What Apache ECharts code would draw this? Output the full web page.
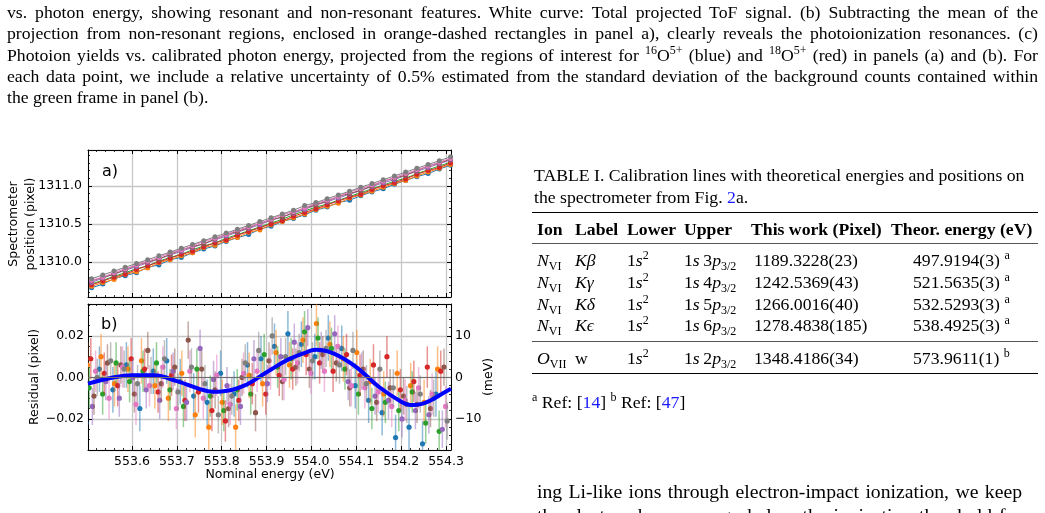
<!DOCTYPE html>
<html>
<head>
<meta charset="utf-8">
<script src="https://cdn.jsdelivr.net/npm/echarts@6.0.0/dist/echarts.min.js"></script>
<style>
  body { margin: 0; background: #fff; }
  #page { position: relative; width: 1045px; height: 513px; overflow: hidden; background: #fff; color: #000;
    font-family: 'Liberation Serif', 'Times New Roman', serif; }
  #chart { position: absolute; left: 0; top: 0; width: 1045px; height: 513px; }
  .blk { position: absolute; }
  .j { text-align: justify; text-align-last: justify; white-space: nowrap; }
  .l { white-space: nowrap; }
  .ref { color: #1a1aff; }
  sup { font-size: 0.68em; vertical-align: 0.55em; line-height: 0; }
  sub { font-size: 0.68em; vertical-align: -0.3em; line-height: 0; }
  .cell { position: absolute; white-space: nowrap; font-size: 17.7px; line-height: 20px; }
  .hd { font-weight: bold; }
  .rule { position: absolute; left: 532px; width: 506px; }
</style>
</head>
<body>
<div id="page">
  <div id="chart"></div>

  <!-- figure caption (end of it) -->
  <div class="blk" style="left:7px;top:2px;width:1031px;font-size:17.7px;line-height:21.3px">
    <div class="j">vs. photon energy, showing resonant and non-resonant features. White curve: Total projected ToF signal. (b) Subtracting the mean of the</div>
    <div class="j">projection from non-resonant regions, enclosed in orange-dashed rectangles in panel a), clearly reveals the photoionization resonances. (c)</div>
    <div class="j">Photoion yields vs. calibrated photon energy, projected from the regions of interest for <sup>16</sup>O<sup>5+</sup> (blue) and <sup>18</sup>O<sup>5+</sup> (red) in panels (a) and (b). For</div>
    <div class="j">each data point, we include a relative uncertainty of 0.5% estimated from the standard deviation of the background counts contained within</div>
    <div class="l">the green frame in panel (b).</div>
  </div>

  <!-- table caption -->
  <div class="blk" style="left:534px;top:165px;width:489px;font-size:17.7px;line-height:21.8px">
    <div class="j">TABLE I. Calibration lines with theoretical energies and positions on</div>
    <div class="l">the spectrometer from Fig. <span class="ref">2</span>a.</div>
  </div>

  <!-- table rules -->
  <div class="rule" style="top:212px;height:1.4px;background:#000"></div>
  <div class="rule" style="top:243px;height:1.2px;background:#555"></div>
  <div class="rule" style="top:341px;height:1.2px;background:#555"></div>
  <div class="rule" style="top:373px;height:1.4px;background:#000"></div>

  <!-- table header -->
  <div class="cell hd" style="left:537px;top:219px">Ion</div>
  <div class="cell hd" style="left:575px;top:219px">Label</div>
  <div class="cell hd" style="left:627px;top:219px">Lower</div>
  <div class="cell hd" style="left:684px;top:219px">Upper</div>
  <div class="cell hd" style="left:751px;top:219px">This work (Pixel)</div>
  <div class="cell hd" style="left:891px;top:219px">Theor. energy (eV)</div>

  <!-- table rows -->
  <div class="cell" style="left:537px;top:250px"><i>N</i><sub>VI</sub></div>
  <div class="cell" style="left:575px;top:250px"><i>K&beta;</i></div>
  <div class="cell" style="left:627px;top:250px">1<i>s</i><sup>2</sup></div>
  <div class="cell" style="left:684px;top:250px">1<i>s</i>&thinsp;3<i>p</i><sub>3/2</sub></div>
  <div class="cell" style="left:754px;top:250px">1189.3228(23)</div>
  <div class="cell" style="left:913px;top:250px">497.9194(3) <sup>a</sup></div>

  <div class="cell" style="left:537px;top:272px"><i>N</i><sub>VI</sub></div>
  <div class="cell" style="left:575px;top:272px"><i>K&gamma;</i></div>
  <div class="cell" style="left:627px;top:272px">1<i>s</i><sup>2</sup></div>
  <div class="cell" style="left:684px;top:272px">1<i>s</i>&thinsp;4<i>p</i><sub>3/2</sub></div>
  <div class="cell" style="left:754px;top:272px">1242.5369(43)</div>
  <div class="cell" style="left:913px;top:272px">521.5635(3) <sup>a</sup></div>

  <div class="cell" style="left:537px;top:294px"><i>N</i><sub>VI</sub></div>
  <div class="cell" style="left:575px;top:294px"><i>K&delta;</i></div>
  <div class="cell" style="left:627px;top:294px">1<i>s</i><sup>2</sup></div>
  <div class="cell" style="left:684px;top:294px">1<i>s</i>&thinsp;5<i>p</i><sub>3/2</sub></div>
  <div class="cell" style="left:754px;top:294px">1266.0016(40)</div>
  <div class="cell" style="left:913px;top:294px">532.5293(3) <sup>a</sup></div>

  <div class="cell" style="left:537px;top:315px"><i>N</i><sub>VI</sub></div>
  <div class="cell" style="left:575px;top:315px"><i>K&#x3F5;</i></div>
  <div class="cell" style="left:627px;top:315px">1<i>s</i><sup>2</sup></div>
  <div class="cell" style="left:684px;top:315px">1<i>s</i>&thinsp;6<i>p</i><sub>3/2</sub></div>
  <div class="cell" style="left:754px;top:315px">1278.4838(185)</div>
  <div class="cell" style="left:913px;top:315px">538.4925(3) <sup>a</sup></div>

  <div class="cell" style="left:537px;top:348px"><i>O</i><sub>VII</sub></div>
  <div class="cell" style="left:575px;top:348px">w</div>
  <div class="cell" style="left:627px;top:348px">1<i>s</i><sup>2</sup></div>
  <div class="cell" style="left:684px;top:348px">1<i>s</i>&thinsp;2<i>p</i><sub>3/2</sub></div>
  <div class="cell" style="left:754px;top:348px">1348.4186(34)</div>
  <div class="cell" style="left:913px;top:348px">573.9611(1) <sup>b</sup></div>

  <div class="cell" style="left:532px;top:392px"><sup>a</sup> Ref: [<span class="ref">14</span>] <sup>b</sup> Ref: [<span class="ref">47</span>]</div>

  <!-- body text, right column -->
  <div class="blk" style="left:537px;top:480px;width:485px;font-size:19.7px;line-height:23.6px">
    <div class="j">ing Li-like ions through electron-impact ionization, we keep</div>
    <div class="j">the electron beam energy below the ionization threshold for</div>
  </div>
</div>

<script>
// colours of the different calibration runs (matplotlib tab10)
const runColors = ['#1f77b4', '#ff7f0e', '#2ca02c', '#d62728', '#9467bd', '#8c564b', '#e377c2', '#7f7f7f']

// ---- panel a) : spectrometer position vs nominal energy ----
const energyA = [553.510, 553.535, 553.560, 553.585, 553.610, 553.635, 553.660, 553.685, 553.710, 553.735, 553.760,
  553.785, 553.810, 553.835, 553.860, 553.885, 553.910, 553.935, 553.960, 553.985, 554.010, 554.035,
  554.060, 554.085, 554.110, 554.135, 554.160, 554.185, 554.210, 554.235, 554.260, 554.285, 554.310]
const posBlue = [1309.66, 1309.71, 1309.78, 1309.82, 1309.86, 1309.93, 1309.96, 1310.03, 1310.06, 1310.12, 1310.17,
  1310.21, 1310.27, 1310.32, 1310.36, 1310.43, 1310.47, 1310.53, 1310.57, 1310.62, 1310.68, 1310.72,
  1310.78, 1310.81, 1310.87, 1310.92, 1310.96, 1311.02, 1311.07, 1311.12, 1311.16, 1311.22, 1311.27]
const posOrange = [1309.68, 1309.73, 1309.77, 1309.84, 1309.87, 1309.92, 1309.99, 1310.03, 1310.08, 1310.12, 1310.19,
  1310.22, 1310.28, 1310.32, 1310.39, 1310.42, 1310.49, 1310.53, 1310.58, 1310.63, 1310.69, 1310.73,
  1310.77, 1310.84, 1310.88, 1310.93, 1310.98, 1311.03, 1311.07, 1311.13, 1311.18, 1311.23, 1311.28]
const posGreen = [1309.71, 1309.76, 1309.81, 1309.86, 1309.91, 1309.95, 1310.01, 1310.06, 1310.10, 1310.16, 1310.21,
  1310.25, 1310.31, 1310.36, 1310.41, 1310.46, 1310.51, 1310.56, 1310.62, 1310.67, 1310.72, 1310.76,
  1310.81, 1310.86, 1310.91, 1310.96, 1311.01, 1311.06, 1311.10, 1311.16, 1311.21, 1311.26, 1311.31]
const posRed = [1309.70, 1309.75, 1309.80, 1309.84, 1309.90, 1309.95, 1310.00, 1310.05, 1310.10, 1310.14, 1310.20,
  1310.25, 1310.29, 1310.35, 1310.40, 1310.45, 1310.50, 1310.54, 1310.60, 1310.65, 1310.70, 1310.75,
  1310.80, 1310.85, 1310.89, 1310.95, 1311.00, 1311.04, 1311.09, 1311.15, 1311.20, 1311.24, 1311.30]
const posPurple = [1309.73, 1309.79, 1309.84, 1309.89, 1309.94, 1309.99, 1310.04, 1310.09, 1310.14, 1310.19, 1310.24,
  1310.29, 1310.34, 1310.39, 1310.44, 1310.49, 1310.55, 1310.59, 1310.64, 1310.69, 1310.75, 1310.79,
  1310.84, 1310.89, 1310.94, 1310.99, 1311.04, 1311.08, 1311.14, 1311.19, 1311.24, 1311.29, 1311.34]
const posBrown = [1309.75, 1309.80, 1309.84, 1309.90, 1309.96, 1310.00, 1310.04, 1310.10, 1310.16, 1310.20, 1310.24,
  1310.30, 1310.36, 1310.40, 1310.45, 1310.51, 1310.55, 1310.59, 1310.65, 1310.71, 1310.75, 1310.80,
  1310.86, 1310.90, 1310.94, 1311.00, 1311.06, 1311.10, 1311.14, 1311.20, 1311.26, 1311.30, 1311.35]
const posPink = [1309.76, 1309.80, 1309.86, 1309.91, 1309.96, 1310.01, 1310.06, 1310.12, 1310.16, 1310.21, 1310.27,
  1310.31, 1310.36, 1310.42, 1310.46, 1310.51, 1310.56, 1310.62, 1310.66, 1310.71, 1310.77, 1310.81,
  1310.86, 1310.92, 1310.96, 1311.01, 1311.06, 1311.11, 1311.16, 1311.21, 1311.26, 1311.31, 1311.36]
const posGray = [1309.78, 1309.83, 1309.88, 1309.93, 1309.98, 1310.03, 1310.08, 1310.13, 1310.18, 1310.23, 1310.28,
  1310.33, 1310.38, 1310.43, 1310.48, 1310.53, 1310.58, 1310.63, 1310.68, 1310.74, 1310.78, 1310.83,
  1310.88, 1310.93, 1310.98, 1311.03, 1311.08, 1311.13, 1311.18, 1311.23, 1311.28, 1311.33, 1311.38]

// ---- panel b) : residuals of the calibration fit ----
const energyB = [553.51, 553.54, 553.57, 553.60, 553.63, 553.66, 553.69, 553.72, 553.75, 553.78, 553.81, 553.84, 553.87,
  553.90, 553.93, 553.96, 553.99, 554.02, 554.05, 554.08, 554.11, 554.14, 554.17, 554.20, 554.23, 554.26, 554.29]
const resBlue = [-0.022, 0.004, -0.006, 0.006, -0.015, 0.003, 0.008, -0.002, -0.009, -0.012, 0.002, -0.008, 0.006,
  0.009, 0.015, 0.021, 0.016, 0.010, 0.019, 0.014, -0.004, -0.011, -0.017, -0.029, -0.024, -0.032, -0.008]
const resOrange = [0.006, 0.010, -0.003, 0.004, 0.008, -0.004, -0.010, 0.002, -0.018, -0.024, -0.012, -0.024, 0.001,
  -0.003, 0.012, 0.006, 0.018, 0.026, 0.016, 0.009, 0.012, -0.002, -0.008, 0.002, -0.004, -0.012, 0.004]
const resGreen = [-0.005, -0.008, 0.007, -0.002, 0.003, 0.007, -0.006, -0.014, 0.004, -0.009, -0.016, -0.006, -0.008,
  0.011, 0.005, 0.009, 0.022, 0.019, 0.014, 0.004, -0.008, -0.015, -0.012, -0.016, -0.007, -0.022, -0.026]
const resRed = [0.009, 0.002, -0.004, 0.009, 0.004, -0.007, 0.001, -0.011, -0.007, -0.016, -0.021, -0.011, -0.003,
  -0.008, 0.001, 0.004, 0.011, 0.007, 0.003, 0.011, 0.001, 0.006, 0.010, -0.006, -0.002, 0.005, 0.003]
const resPurple = [-0.014, -0.002, -0.010, 0.000, -0.006, -0.011, 0.003, -0.012, 0.014, -0.001, -0.004, -0.014, 0.009,
  -0.003, 0.010, 0.017, 0.024, 0.013, 0.021, -0.002, 0.003, -0.009, -0.011, -0.020, -0.016, -0.018, -0.025]
const resBrown = [-0.009, 0.007, 0.006, -0.008, 0.013, -0.003, 0.005, 0.018, 0.004, -0.006, -0.015, 0.000, -0.017,
  0.008, -0.002, 0.005, 0.004, 0.011, 0.007, -0.005, 0.004, -0.012, -0.005, -0.009, -0.013, -0.015, 0.005]
const resPink = [0.003, -0.010, 0.005, -0.013, -0.004, 0.005, -0.015, 0.003, -0.010, 0.001, -0.013, 0.002, 0.003,
  0.004, -0.001, 0.007, 0.002, 0.003, 0.015, -0.004, -0.005, -0.007, -0.014, -0.011, -0.005, -0.008, -0.014]
const resGray = [0.000, 0.008, 0.004, -0.003, 0.001, 0.009, -0.007, 0.005, -0.003, -0.018, -0.009, 0.007, 0.013,
  0.020, 0.010, 0.012, 0.008, 0.014, 0.006, 0.013, -0.003, 0.004, -0.005, -0.013, -0.008, -0.010, -0.021]
// one error bar half-length per run
const errB = [0.011, 0.011, 0.010, 0.010, 0.009, 0.009, 0.010, 0.009]

// smooth curve fitted through the residuals (blue)
const fitEnergy = [553.502, 553.55, 553.60, 553.65, 553.70, 553.75, 553.78, 553.80, 553.85, 553.90, 553.95, 554.00,
  554.01, 554.05, 554.10, 554.15, 554.20, 554.22, 554.25, 554.30, 554.311]
const fitResidual = [-0.0030, -0.0004, 0.0011, 0.0010, -0.0018, -0.0055, -0.0069, -0.0068, -0.0040, 0.0025, 0.0088,
  0.0130, 0.0134, 0.0115, 0.0050, -0.0045, -0.0117, -0.0133, -0.0125, -0.0068, -0.0055]

const posRuns = [posBlue, posOrange, posGreen, posRed, posPurple, posBrown, posPink, posGray]
const resRuns = [resBlue, resOrange, resGreen, resRed, resPurple, resBrown, resPink, resGray]

const font = 'DejaVu Sans'
const chart = echarts.init(document.getElementById('chart'))

// label only values on the major step, the axis ends get an empty label
function stepLabel (step, digits) {
  return function (v) {
    const r = v / step
    if (Math.abs(r - Math.round(r)) > 1e-6) return ''
    return (v < -1e-9 ? '\u2212' : '') + Math.abs(v).toFixed(digits)
  }
}

// common look of an axis: black frame, ticks pointing inwards
function frameAxis (extra) {
  return Object.assign({
    type: 'value',
    axisLine: { show: true, onZero: false, lineStyle: { color: '#000', width: 1 } },
    axisTick: { show: true, inside: true, length: 4, lineStyle: { color: '#000', width: 1 } },
    minorTick: { show: true, splitNumber: 5, length: 2, lineStyle: { color: '#000', width: 0.8 } },
    splitLine: { show: false },
    axisLabel: { show: false }
  }, extra)
}

const gridLine = { show: true, lineStyle: { color: '#c6c6c6', width: 1.3 } }
const tickFont = { color: '#000', fontFamily: font, fontSize: 12.5 }

const xRange = { min: 553.502, max: 554.311, minInterval: 0.1, maxInterval: 0.1 }

// error bar + dot for one run, dodged a little so the runs sit side by side
function errorBarItem (k) {
  const color = runColors[k]
  const dx = (k - 3.5) * 1.6
  return function (params, api) {
    const y = api.value(1)
    const e = api.value(2)
    const top = api.coord([api.value(0), y + e])
    const bot = api.coord([api.value(0), y - e])
    const mid = api.coord([api.value(0), y])
    return {
      type: 'group',
      children: [
        { type: 'line', shape: { x1: top[0] + dx, y1: top[1], x2: bot[0] + dx, y2: bot[1] }, style: { stroke: color, lineWidth: 1.5, opacity: 0.5 } },
        { type: 'circle', shape: { cx: mid[0] + dx, cy: mid[1], r: 2.6 }, style: { fill: color } }
      ]
    }
  }
}

const series = []
posRuns.forEach((arr, k) => {
  series.push({
    type: 'line',
    xAxisIndex: 0,
    yAxisIndex: 0,
    data: energyA.map((x, i) => [x, arr[i]]),
    symbol: 'circle',
    symbolSize: 5,
    itemStyle: { color: runColors[k] },
    lineStyle: { color: runColors[k], width: 1 },
    z: 2
  })
})
// zero line of the residual panel
series.push({
  type: 'line',
  xAxisIndex: 2,
  yAxisIndex: 2,
  data: [],
  z: 1,
  markLine: {
    silent: true,
    symbol: 'none',
    label: { show: false },
    lineStyle: { color: '#6e6e6e', width: 1, type: 'solid' },
    data: [{ yAxis: 0 }]
  }
})
resRuns.forEach((arr, k) => {
  series.push({
    type: 'custom',
    xAxisIndex: 2,
    yAxisIndex: 2,
    clip: true,
    z: 2,
    encode: { x: 0, y: 1 },
    data: energyB.map((x, i) => [x, arr[i], errB[k]]),
    renderItem: errorBarItem(k)
  })
})
series.push({
  type: 'line',
  xAxisIndex: 2,
  yAxisIndex: 2,
  data: fitEnergy.map((x, i) => [x, fitResidual[i]]),
  smooth: 0.4,
  showSymbol: false,
  lineStyle: { color: '#0000ff', width: 4 },
  z: 3
})

const option = {
  animation: false,
  backgroundColor: 'transparent',
  grid: [
    { left: 88, top: 150, width: 363, height: 147 },
    { left: 88, top: 304, width: 363, height: 146 }
  ],
  xAxis: [
    frameAxis(Object.assign({ gridIndex: 0, position: 'bottom', splitLine: gridLine }, xRange)),
    frameAxis(Object.assign({ gridIndex: 0, position: 'top' }, xRange)),
    frameAxis(Object.assign({ gridIndex: 1, position: 'bottom', splitLine: gridLine,
      axisLabel: Object.assign({ show: true, margin: 5, formatter: stepLabel(0.1, 1) }, tickFont) }, xRange)),
    frameAxis(Object.assign({ gridIndex: 1, position: 'top' }, xRange))
  ],
  yAxis: [
    frameAxis({ gridIndex: 0, position: 'left', min: 1309.54, max: 1311.47, minInterval: 0.5, maxInterval: 0.5,
      splitLine: gridLine, axisLabel: Object.assign({ show: true, margin: 6, formatter: stepLabel(0.5, 1) }, tickFont) }),
    frameAxis({ gridIndex: 0, position: 'right', min: 1309.54, max: 1311.47, minInterval: 0.5, maxInterval: 0.5 }),
    frameAxis({ gridIndex: 1, position: 'left', min: -0.035, max: 0.0354, minInterval: 0.02, maxInterval: 0.02,
      minorTick: { show: true, splitNumber: 4, length: 2, lineStyle: { color: '#000', width: 0.8 } },
      splitLine: gridLine, axisLabel: Object.assign({ show: true, margin: 4, formatter: stepLabel(0.02, 2) }, tickFont) }),
    frameAxis({ gridIndex: 1, position: 'right', min: -17.5, max: 17.7, minInterval: 10, maxInterval: 10,
      axisLabel: Object.assign({ show: true, margin: 4, formatter: stepLabel(10, 0) }, tickFont) })
  ],
  graphic: [
    { type: 'text', x: 102, y: 172, style: { text: 'a)', font: '16px ' + font, fill: '#000', verticalAlign: 'middle' } },
    { type: 'text', x: 101, y: 325, style: { text: 'b)', font: '16px ' + font, fill: '#000', verticalAlign: 'middle' } },
    { type: 'text', x: 22, y: 224, rotation: Math.PI / 2,
      style: { text: 'Spectrometer\nposition (pixel)', font: '12.5px ' + font, lineHeight: 17, fill: '#000', align: 'center', verticalAlign: 'middle' } },
    { type: 'text', x: 35, y: 377, rotation: Math.PI / 2,
      style: { text: 'Residual (pixel)', font: '12.5px ' + font, fill: '#000', align: 'center', verticalAlign: 'middle' } },
    { type: 'text', x: 489, y: 377, rotation: Math.PI / 2,
      style: { text: '(meV)', font: '12.5px ' + font, fill: '#000', align: 'center', verticalAlign: 'middle' } },
    { type: 'text', x: 270, y: 475,
      style: { text: 'Nominal energy (eV)', font: '12.5px ' + font, fill: '#000', align: 'center', verticalAlign: 'middle' } }
  ],
  series: series
}
chart.setOption(option)
</script>
</body>
</html>
